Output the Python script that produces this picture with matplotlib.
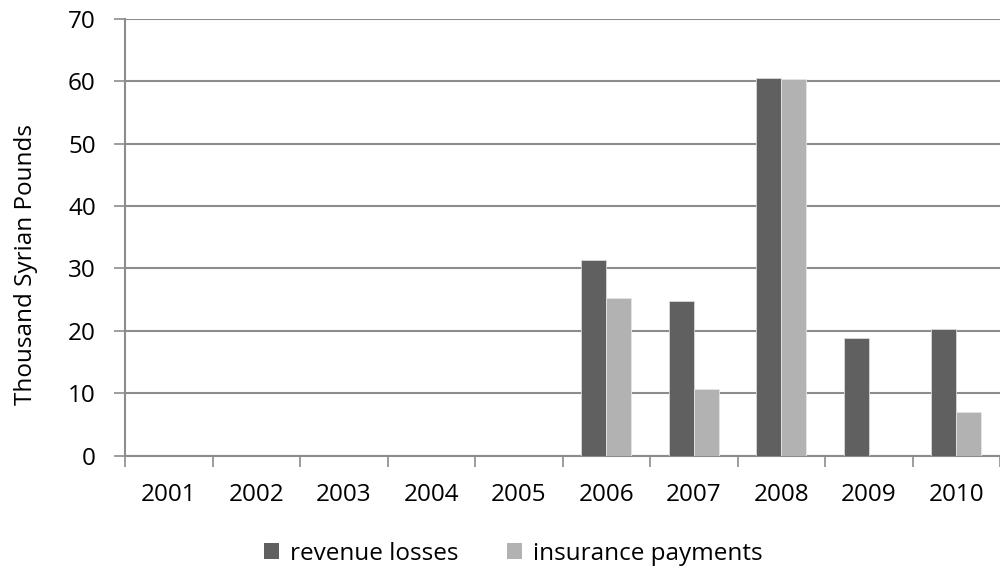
import matplotlib
matplotlib.use("Agg")
import matplotlib.pyplot as plt
from matplotlib.patches import Patch
import numpy as np

years = ["2001", "2002", "2003", "2004", "2005", "2006", "2007", "2008", "2009", "2010"]
revenue_losses = [0, 0, 0, 0, 0, 31.3, 24.8, 60.6, 18.8, 20.3]
insurance_payments = [0, 0, 0, 0, 0, 25.3, 10.6, 60.4, 0, 6.9]

dark = "#606060"
light = "#b2b2b2"
grid = "#8c8c8c"
fs = 17.5

plt.rcParams["font.family"] = ["Open Sans", "DejaVu Sans"]

fig = plt.figure(figsize=(10, 5.74), dpi=100)
ax = fig.add_axes([0.125, 0.2064, 0.875, 0.7605])

x = np.arange(len(years))
w = 0.287
ax.bar(x - w / 2, revenue_losses, w, color=dark, edgecolor="#d8d8d8", linewidth=0.6, zorder=3)
ax.bar(x + w / 2, insurance_payments, w, color=light, edgecolor="#e4e4e4", linewidth=0.6, zorder=3)

ax.set_xlim(-0.5, len(years) - 0.5)
ax.set_ylim(0, 70)
ax.set_yticks(np.arange(0, 71, 10))
ax.yaxis.grid(True, color=grid, linewidth=1.5, zorder=0)

ax.set_xticks(x)
ax.set_xticklabels(years)
ax.set_xticks(np.arange(-0.5, len(years), 1), minor=True)
ax.tick_params(axis="x", which="major", length=0, pad=20, labelsize=fs)
ax.tick_params(axis="x", which="minor", length=8, width=1.2, color=grid, direction="out")
ax.tick_params(axis="y", length=8, width=1.2, color=grid, direction="out", labelsize=fs, pad=13)

for side in ("top", "right"):
    ax.spines[side].set_visible(False)
for side in ("left", "bottom"):
    ax.spines[side].set_color(grid)
    ax.spines[side].set_linewidth(1.5)

ax.set_ylabel("Thousand Syrian Pounds", fontsize=fs)
ax.yaxis.set_label_coords(-0.099, 0.438)

handles = [Patch(facecolor=dark, edgecolor="none"), Patch(facecolor=light, edgecolor="none")]
fig.legend(handles, ["revenue losses", "insurance payments"], ncol=2, frameon=False,
           loc="center", bbox_to_anchor=(0.5135, 1 - 553.5 / 574), fontsize=fs,
           handlelength=0.62, handleheight=0.66, handletextpad=0.45, columnspacing=2.0)

fig.savefig("out.png", dpi=100)
